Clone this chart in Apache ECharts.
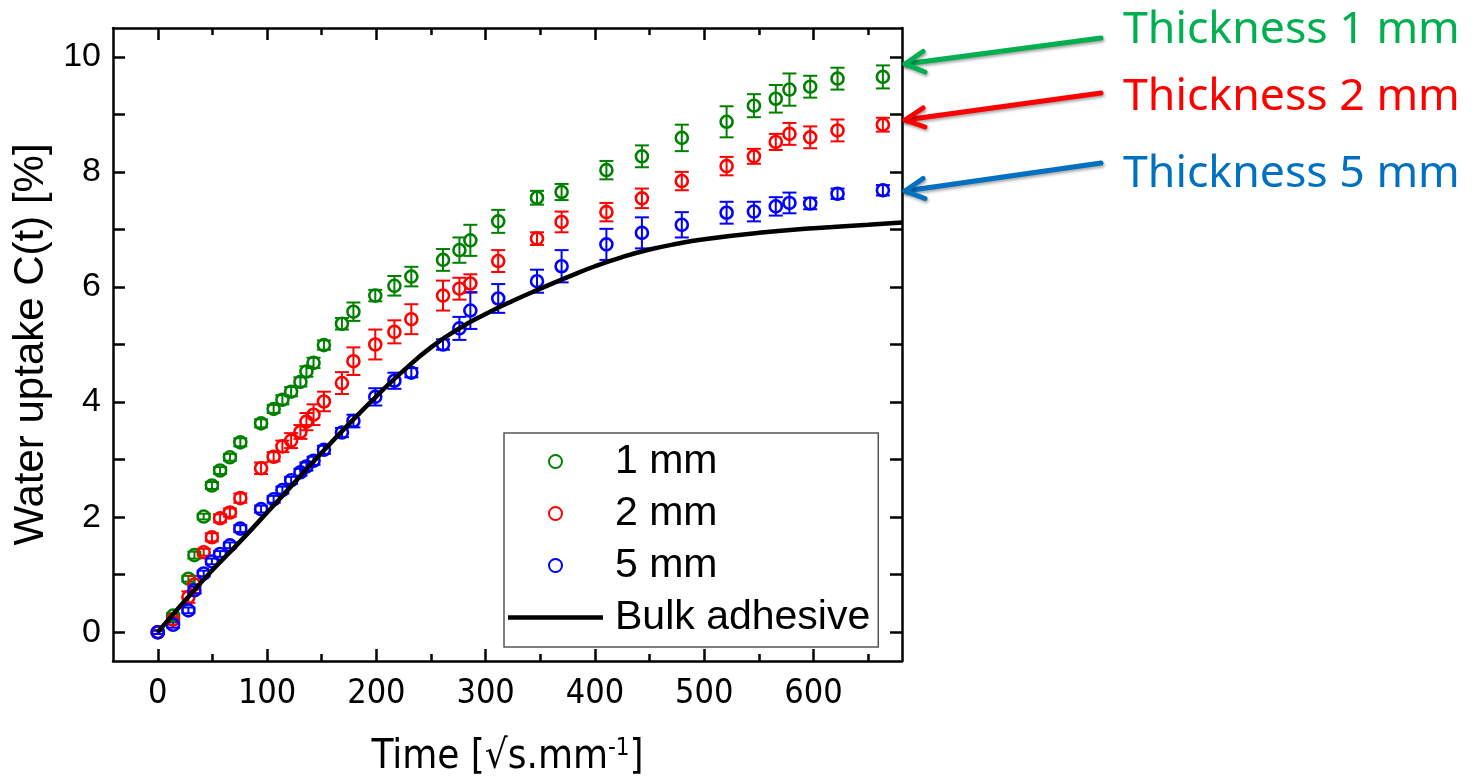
<!DOCTYPE html>
<html>
<head>
<meta charset="utf-8">
<script src="https://cdn.jsdelivr.net/npm/echarts@6/dist/echarts.min.js"></script>
<style>
html,body{margin:0;padding:0;background:#fff;overflow:hidden;}
#chart{width:1472px;height:778px;}
</style>
</head>
<body>
<div id="chart"></div>
<script>
// ---- data ----
const times = [0, 14, 28, 33.5, 42, 49.5, 57, 66, 75.5, 94.5, 106, 114, 122, 130.5, 136, 142.5, 152, 168.5, 179, 199, 216.5, 232, 261, 276, 286, 311.5, 347, 369.5, 410.5, 443, 479.5, 520.5, 545.5, 565.5, 578, 597, 622, 663.5];

const uptake1mm = [0, 0.29, 0.93, 1.34, 2.01, 2.55, 2.81, 3.04, 3.30, 3.63, 3.88, 4.04, 4.18, 4.35, 4.53, 4.68, 4.99, 5.36, 5.57, 5.85, 6.02, 6.18, 6.47, 6.64, 6.81, 7.14, 7.55, 7.65, 8.03, 8.27, 8.59, 8.87, 9.15, 9.27, 9.43, 9.48, 9.62, 9.65];
const err1mm = [0.03, 0.04, 0.05, 0.06, 0.05, 0.06, 0.06, 0.06, 0.07, 0.07, 0.07, 0.08, 0.08, 0.08, 0.09, 0.09, 0.08, 0.10, 0.16, 0.10, 0.17, 0.17, 0.19, 0.22, 0.27, 0.20, 0.12, 0.14, 0.16, 0.19, 0.23, 0.27, 0.20, 0.24, 0.28, 0.19, 0.19, 0.20];

const uptake2mm = [0, 0.22, 0.61, 0.83, 1.39, 1.65, 1.98, 2.08, 2.33, 2.85, 3.05, 3.23, 3.33, 3.48, 3.66, 3.78, 4.01, 4.33, 4.71, 5.00, 5.22, 5.44, 5.85, 5.97, 6.06, 6.45, 6.84, 7.13, 7.30, 7.54, 7.84, 8.10, 8.27, 8.52, 8.66, 8.60, 8.72, 8.82];
const err2mm = [0.03, 0.05, 0.10, 0.15, 0.06, 0.07, 0.07, 0.07, 0.08, 0.10, 0.08, 0.10, 0.13, 0.12, 0.15, 0.18, 0.17, 0.19, 0.24, 0.26, 0.20, 0.26, 0.26, 0.19, 0.16, 0.19, 0.11, 0.18, 0.16, 0.17, 0.16, 0.16, 0.13, 0.14, 0.19, 0.19, 0.19, 0.12];

const uptake5mm = [0, 0.13, 0.38, 0.73, 1.02, 1.23, 1.36, 1.51, 1.80, 2.14, 2.31, 2.47, 2.64, 2.78, 2.88, 2.98, 3.17, 3.47, 3.67, 4.09, 4.37, 4.51, 5.00, 5.28, 5.59, 5.80, 6.10, 6.36, 6.74, 6.94, 7.08, 7.29, 7.31, 7.40, 7.46, 7.45, 7.62, 7.68];
const err5mm = [0.03, 0.05, 0.05, 0.06, 0.05, 0.05, 0.05, 0.05, 0.06, 0.06, 0.06, 0.06, 0.06, 0.06, 0.07, 0.07, 0.07, 0.08, 0.11, 0.15, 0.14, 0.08, 0.09, 0.20, 0.32, 0.25, 0.20, 0.28, 0.27, 0.27, 0.22, 0.19, 0.17, 0.16, 0.18, 0.10, 0.09, 0.09];

const bulkTimes = [0, 25, 50, 75, 100, 125, 150, 175, 200, 225, 250, 275, 300, 325, 350, 375, 400, 425, 450, 475, 500, 550, 600, 650, 681];
const bulkUptake = [0, 0.55, 1.08, 1.57, 2.08, 2.60, 3.12, 3.62, 4.10, 4.55, 4.95, 5.27, 5.53, 5.76, 5.97, 6.17, 6.36, 6.52, 6.65, 6.75, 6.83, 6.94, 7.02, 7.08, 7.12];

const seriesNames = ['1 mm', '2 mm', '5 mm', 'Bulk adhesive'];
const xMajorTicks = [0, 100, 200, 300, 400, 500, 600];
const xMinorTicks = [50, 150, 250, 350, 450, 550, 650];
const yTicks = [0, 1, 2, 3, 4, 5, 6, 7, 8, 9, 10];
const yLabels = [0, 2, 4, 6, 8, 10];
const annotations = ['Thickness 1 mm', 'Thickness 2 mm', 'Thickness 5 mm'];

// ---- styling ----
const markerColors = ['#008000', '#ff0000', '#0000ff'];
const annColors = ['#00b050', '#ff0000', '#0070c0'];
const FONT = "'Liberation Sans', Arial, sans-serif";
const NARROW = "'Liberation Sans Narrow', 'DejaVu Sans Condensed', 'Liberation Sans', sans-serif";

const chart = echarts.init(document.getElementById('chart'), null, {renderer: 'canvas', width: 1472, height: 778});

function errSeries(vals, errs, color) {
  return {
    type: 'custom',
    xAxisIndex: 0, yAxisIndex: 0,
    silent: true,
    z: 2,
    data: times.map((t, i) => [t, vals[i], errs[i]]),
    renderItem: function (params, api) {
      const x = api.value(0), y = api.value(1), e = api.value(2);
      const top = api.coord([x, y + e]);
      const bot = api.coord([x, y - e]);
      const hw = 7;
      const st = {stroke: color, lineWidth: 2};
      return {
        type: 'group',
        children: [
          {type: 'line', shape: {x1: top[0], y1: top[1], x2: bot[0], y2: bot[1]}, style: st},
          {type: 'line', shape: {x1: top[0] - hw, y1: top[1], x2: top[0] + hw, y2: top[1]}, style: st},
          {type: 'line', shape: {x1: bot[0] - hw, y1: bot[1], x2: bot[0] + hw, y2: bot[1]}, style: st}
        ]
      };
    }
  };
}
function scatterSeries(name, vals, color) {
  return {
    name: name,
    type: 'scatter',
    xAxisIndex: 0, yAxisIndex: 0,
    symbol: 'circle',
    symbolSize: 12,
    z: 3,
    itemStyle: {color: 'rgba(255,255,255,0)', borderColor: color, borderWidth: 2.6, opacity: 1},
    data: times.map((t, i) => [t, vals[i]])
  };
}

// fit annotation text width
const ctx = document.createElement('canvas').getContext('2d');
ctx.font = "46px 'Noto Sans'";
const annWidth = ctx.measureText(annotations[0]).width;
const annSize = Math.max(36, Math.min(52, 46 * 337 / annWidth));

const arrows = [
  {start: [1101, 38], tip: [905, 64], h1: [923, 51.5], h2: [925, 72]},
  {start: [1101, 93], tip: [905, 120], h1: [923, 108], h2: [925, 127]},
  {start: [1101, 163], tip: [905, 191], h1: [923, 178.5], h2: [925, 198.5]}
];
const annY = [30.5, 97.5, 174];

const graphics = [];
arrows.forEach((a, i) => {
  const st = {stroke: annColors[i], lineWidth: 5, lineCap: 'round', lineJoin: 'round',
    shadowBlur: 3, shadowColor: 'rgba(0,0,0,0.35)', shadowOffsetX: 1, shadowOffsetY: 2, fill: null};
  graphics.push({type: 'polyline', z: 10, shape: {points: [a.start, a.tip]}, style: st});
  graphics.push({type: 'polyline', z: 10, shape: {points: [a.h1, a.tip, a.h2]}, style: st});
  graphics.push({
    type: 'text', z: 10, x: 1123, y: annY[i],
    style: {text: annotations[i], fill: annColors[i], font: annSize + "px 'Noto Sans'",
      textAlign: 'left', textVerticalAlign: 'middle', verticalAlign: 'middle'}
  });
});

const axisBase = {
  type: 'value', min: -41, max: 681,
  splitLine: {show: false}
};

const option = {
  backgroundColor: '#ffffff',
  animation: false,
  grid: {left: 113, top: 28, right: 570, bottom: 117, containLabel: false, outerBoundsMode: 'none'},
  legend: {
    left: 504, top: 433,
    orient: 'vertical',
    data: [
      {name: seriesNames[0]},
      {name: seriesNames[1]},
      {name: seriesNames[2]},
      {name: seriesNames[3], icon: 'path://M0,0H95V4.5H0Z', itemStyle: {color: '#000'}}
    ],
    symbolKeepAspect: true,
    itemWidth: 95, itemHeight: 13, itemGap: 11,
    padding: [8, 8, 9, 4],
    borderColor: '#555', borderWidth: 1.5,
    selectedMode: false,
    textStyle: {fontSize: 41, fontFamily: FONT, color: '#000', lineHeight: 40, padding: [0, 0, 0, 7]}
  },
  xAxis: [
    Object.assign({}, axisBase, {
      position: 'bottom',
      axisLine: {show: true, onZero: false, lineStyle: {color: '#000', width: 2.5}},
      axisTick: {show: true, inside: true, length: 12, customValues: xMajorTicks, lineStyle: {color: '#000', width: 2.5}},
      axisLabel: {show: true, customValues: xMajorTicks, margin: 16, fontSize: 34, fontFamily: NARROW, color: '#000'},
      name: 'Time [√s.mm{sup|-1}]',
      nameLocation: 'middle', nameGap: 76,
      nameTextStyle: {fontSize: 40, fontFamily: NARROW, color: '#000', lineHeight: 42,
        rich: {sup: {fontSize: 24, fontFamily: NARROW, color: '#000', verticalAlign: 'top', lineHeight: 42, padding: [0, 0, 20, 0]}}}
    }),
    Object.assign({}, axisBase, {
      position: 'bottom',
      axisLine: {show: false, onZero: false},
      axisTick: {show: true, inside: true, length: 7, customValues: xMinorTicks, lineStyle: {color: '#000', width: 2.5}},
      axisLabel: {show: false}
    }),
    Object.assign({}, axisBase, {
      position: 'top',
      axisLine: {show: true, onZero: false, lineStyle: {color: '#000', width: 2.5}},
      axisTick: {show: true, inside: true, length: 12, customValues: xMajorTicks, lineStyle: {color: '#000', width: 2.5}},
      axisLabel: {show: false}
    }),
    Object.assign({}, axisBase, {
      position: 'top',
      axisLine: {show: false, onZero: false},
      axisTick: {show: true, inside: true, length: 7, customValues: xMinorTicks, lineStyle: {color: '#000', width: 2.5}},
      axisLabel: {show: false}
    })
  ],
  yAxis: [
    {
      type: 'value', min: -0.5, max: 10.5, position: 'left',
      splitLine: {show: false},
      axisLine: {show: true, onZero: false, lineStyle: {color: '#000', width: 2.5}},
      axisTick: {show: true, inside: true, length: 12, customValues: yTicks, lineStyle: {color: '#000', width: 2.5}},
      axisLabel: {show: true, customValues: yLabels, margin: 12, fontSize: 34, fontFamily: FONT, color: '#000'},
      name: 'Water uptake C(t) [%]',
      nameLocation: 'middle', nameGap: 54,
      nameTextStyle: {fontSize: 42, fontFamily: FONT, color: '#000'}
    },
    {
      type: 'value', min: -0.5, max: 10.5, position: 'right',
      splitLine: {show: false},
      axisLine: {show: true, onZero: false, lineStyle: {color: '#000', width: 2.5}},
      axisTick: {show: true, inside: true, length: 12, customValues: yTicks, lineStyle: {color: '#000', width: 2.5}},
      axisLabel: {show: false}
    }
  ],
  series: [
    errSeries(uptake1mm, err1mm, markerColors[0]),
    errSeries(uptake2mm, err2mm, markerColors[1]),
    errSeries(uptake5mm, err5mm, markerColors[2]),
    scatterSeries(seriesNames[0], uptake1mm, markerColors[0]),
    scatterSeries(seriesNames[1], uptake2mm, markerColors[1]),
    scatterSeries(seriesNames[2], uptake5mm, markerColors[2]),
    {
      name: seriesNames[3],
      type: 'line',
      xAxisIndex: 0, yAxisIndex: 0,
      smooth: true,
      symbol: 'none',
      z: 4,
      lineStyle: {color: '#000', width: 4.5},
      itemStyle: {color: '#000'},
      data: bulkTimes.map((t, i) => [t, bulkUptake[i]])
    }
  ],
  graphic: graphics
};
chart.setOption(option);
</script>
</body>
</html>
